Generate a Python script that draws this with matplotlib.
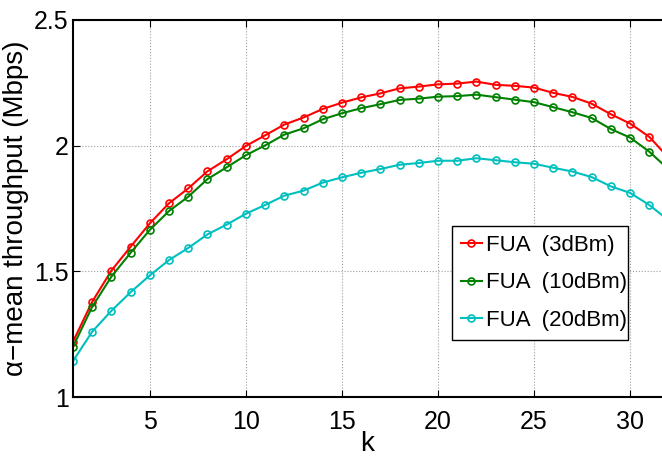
import matplotlib
matplotlib.use("Agg")
import matplotlib.pyplot as plt
import numpy as np

k = list(range(1, 33))
fua_3dbm = [1.220, 1.379, 1.503, 1.598, 1.691, 1.771, 1.830, 1.898, 1.946, 1.999,
            2.041, 2.084, 2.112, 2.146, 2.171, 2.192, 2.208, 2.228, 2.235, 2.244,
            2.247, 2.255, 2.242, 2.238, 2.231, 2.210, 2.194, 2.167, 2.125, 2.088,
            2.035, 1.952]
fua_10dbm = [1.200, 1.359, 1.479, 1.574, 1.665, 1.740, 1.797, 1.867, 1.914, 1.962,
             2.001, 2.044, 2.069, 2.105, 2.129, 2.149, 2.165, 2.182, 2.187, 2.195,
             2.197, 2.203, 2.193, 2.183, 2.173, 2.153, 2.133, 2.110, 2.066, 2.032,
             1.976, 1.906]
fua_20dbm = [1.143, 1.260, 1.343, 1.417, 1.484, 1.545, 1.593, 1.647, 1.686, 1.729,
             1.764, 1.801, 1.821, 1.853, 1.874, 1.892, 1.907, 1.924, 1.931, 1.940,
             1.940, 1.950, 1.942, 1.934, 1.928, 1.912, 1.897, 1.875, 1.838, 1.812,
             1.764, 1.703]
labels = ["FUA  (3dBm)", "FUA  (10dBm)", "FUA  (20dBm)"]
colors = ["#ff0000", "#008000", "#00bfbf"]
xticks = [5, 10, 15, 20, 25, 30]
yticks = [1, 1.5, 2, 2.5]
ytick_labels = ["1", "1.5", "2", "2.5"]

plt.rcParams["font.family"] = ["Liberation Sans", "DejaVu Sans"]

fig = plt.figure(figsize=(6.62, 4.61), dpi=100)
ax = fig.add_axes([73/662, 1 - 397/461, (662 - 73)/662, (397 - 20)/461])

for y, lab, c in zip([fua_3dbm, fua_10dbm, fua_20dbm], labels, colors):
    ax.plot(k, y, "-o", color=c, lw=1.5, ms=5, mfc="none", mew=1.2, label=lab)

ax.set_xlim(1, 31.66)
ax.set_ylim(1, 2.5)
ax.set_xticks(xticks)
ax.set_yticks(yticks)
ax.set_yticklabels(ytick_labels)
ax.grid(True, linestyle=":", color="#a0a0a0", lw=0.8)
ax.tick_params(direction="in", length=5, width=0.8, labelsize=18,
               top=True, right=False)
ax.tick_params(axis="x", pad=9)
ax.tick_params(axis="y", pad=3)
for s in ["left", "bottom", "top"]:
    ax.spines[s].set_linewidth(1.5)
ax.spines["right"].set_visible(False)

ax.set_xlabel("k", fontsize=20, labelpad=-2)
ax.set_ylabel("α−mean throughput (Mbps)", fontsize=20, labelpad=4)

leg = ax.legend(loc="upper left", bbox_to_anchor=(0.643, 0.454, 0.299, 0.0),
                mode="expand", fontsize=16, handlelength=0.95, handletextpad=0.2,
                borderpad=0.4, labelspacing=0.75, fancybox=False, framealpha=1,
                edgecolor="black", borderaxespad=0)
leg.get_frame().set_linewidth(1.0)

fig.savefig("out.png", dpi=100)
